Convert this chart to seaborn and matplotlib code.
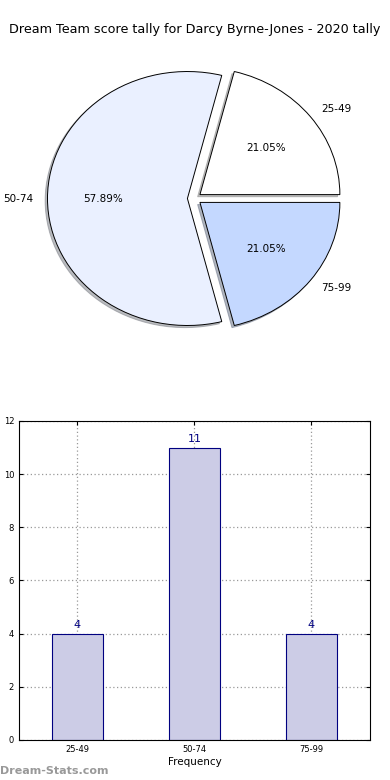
import pandas as pd
import seaborn as sns
import matplotlib.pyplot as plt

# Score bands and how often each one came up
bands = ['25-49', '50-74', '75-99']
counts = [4, 11, 4]
pie_colors = ['#FFFFFF', '#EAF0FF', '#C4D8FF']
bar_color = '#CCCCE6'
edge_color = '#000080'

df = pd.DataFrame({'band': bands, 'count': counts})

fig = plt.figure(figsize=(3.9, 7.8), dpi=100)

# Pie chart on top
ax1 = fig.add_axes([0.05, 0.542, 0.897, 0.407])
wedges, texts, autotexts = ax1.pie(df['count'], labels=df['band'], colors=pie_colors,
                                   explode=[0.05, 0.05, 0.05], autopct='%.2f%%',
                                   startangle=0,
                                   shadow={'ox': -0.012, 'oy': -0.012, 'shade': 0.5},
                                   wedgeprops={'edgecolor': 'black', 'linewidth': 0.7},
                                   textprops={'fontsize': 7.5})
ax1.set_aspect('auto')
ax1.set_xlim(-1.25, 1.25)
ax1.set_ylim(-1.25, 1.25)
fig.text(0.5, 0.962, 'Dream Team score tally for Darcy Byrne-Jones - 2020 tally',
         ha='center', va='center', fontsize=9.2)

# Bar chart below
ax2 = fig.add_axes([0.0487, 0.0513, 0.9, 0.409])
sns.barplot(data=df, x='band', y='count', color=bar_color, edgecolor=edge_color,
            linewidth=0.8, width=0.44, saturation=1, ax=ax2, zorder=2)
ax2.set_xlim(-0.5, 2.5)
ax2.set_ylim(0, 12)
ax2.set_yticks(range(0, 13, 2))
ax2.grid(True, linestyle=(0, (1, 2)), color='#999999', linewidth=0.9, zorder=0)
ax2.set_axisbelow(True)
ax2.tick_params(labelsize=6, direction='in', top=True, right=True, length=3)
ax2.set_xlabel('Frequency', fontsize=7.5, labelpad=2)
ax2.set_ylabel('Score Interval', fontsize=7.5, labelpad=6)
for i, c in enumerate(counts):
    ax2.text(i, c + 0.15, str(c), ha='center', va='bottom', fontsize=8, color=edge_color)

fig.text(0.0, 0.005, 'Dream-Stats.com', fontsize=8, color='#999999',
         fontweight='bold', ha='left', va='bottom')

fig.savefig('out.png', dpi=100)
